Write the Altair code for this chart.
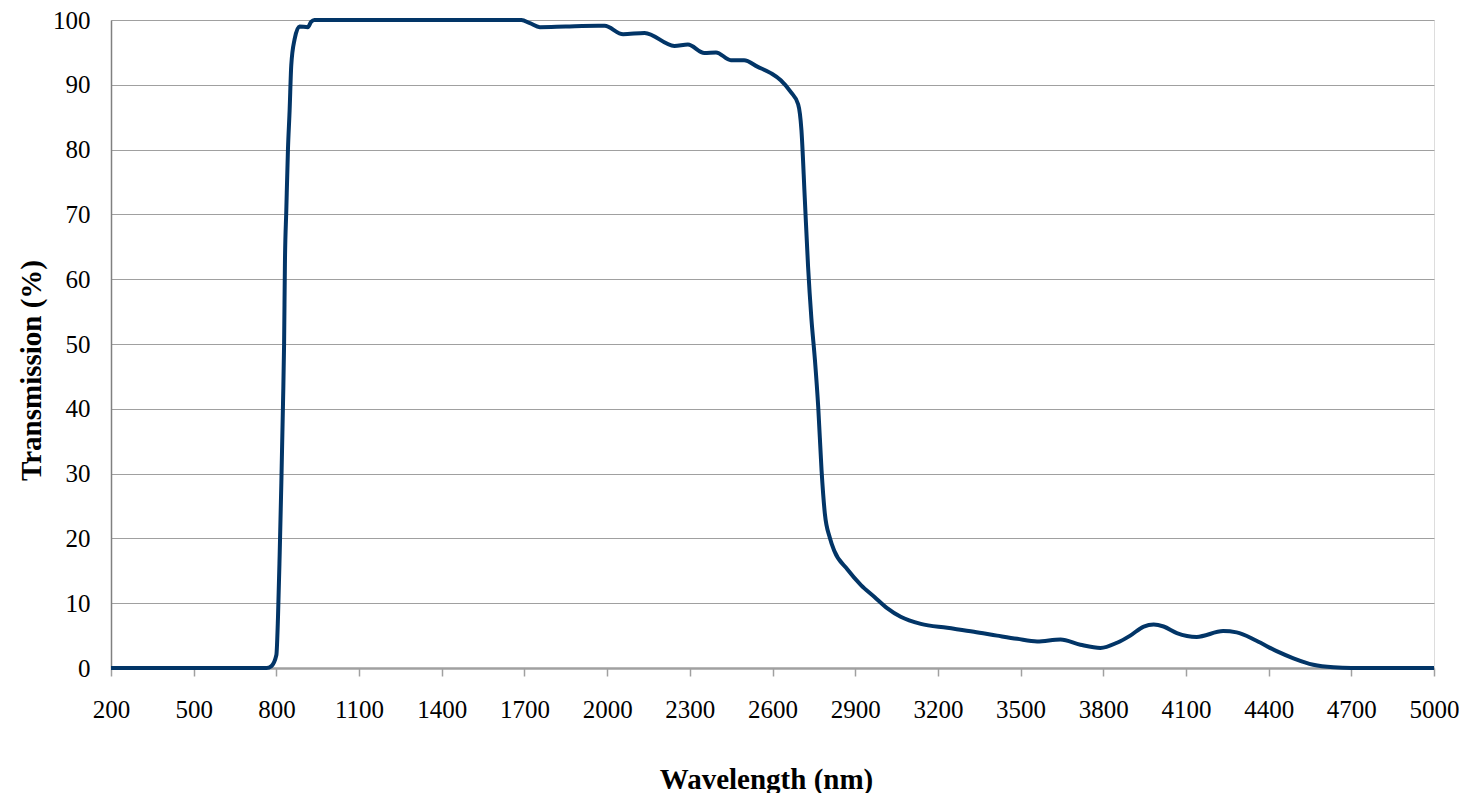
import altair as alt
import pandas as pd

wavelength = [200, 500, 764, 782, 800, 806, 812, 818, 824, 828, 831, 836, 842, 848, 854, 866, 884, 914, 926, 938,
              1200, 1500, 1689, 1720, 1756, 1850, 1967, 1991, 2058, 2136, 2244, 2293, 2353, 2395, 2449, 2497,
              2545, 2594, 2630, 2666, 2693, 2705, 2717, 2729, 2741, 2754, 2766, 2778, 2790, 2808, 2824, 2872,
              2921, 2969, 3017, 3065, 3138, 3234, 3331, 3415, 3488, 3560, 3645, 3717, 3790, 3850, 3898, 3947,
              3983, 4019, 4067, 4139, 4235, 4284, 4356, 4429, 4490, 4562, 4635, 4700, 5000]
transmission = [0, 0, 0, 0.3, 2, 8, 17.6, 28.5, 40.7, 50, 62.4, 70.6, 80, 86, 93, 97, 99, 98.9, 99.7, 100,
                100, 100, 100, 99.5, 98.9, 99.0, 99.1, 99.1, 97.8, 98.0, 96.0, 96.2, 94.9, 95.0, 93.8, 93.8,
                92.8, 91.8, 90.7, 88.9, 87.0, 83, 72.6, 62, 54, 47.5, 40.2, 30.5, 23.8, 20.1, 18.1, 15.2,
                12.8, 11.0, 9.2, 7.9, 6.8, 6.2, 5.6, 5.0, 4.5, 4.1, 4.4, 3.6, 3.1, 3.9, 5.0, 6.4,
                6.7, 6.4, 5.4, 4.8, 5.7, 5.5, 4.2, 2.6, 1.5, 0.5, 0.1, 0, 0]
x_ticks = list(range(200, 5001, 300))
y_ticks = list(range(0, 101, 10))

df = pd.DataFrame({"wl": wavelength, "t": transmission})

FONT = "Liberation Serif"

chart = alt.Chart(df).mark_line(
    color="#023567", strokeWidth=4, interpolate="monotone"
).encode(
    x=alt.X("wl:Q", scale=alt.Scale(domain=[200, 5000], nice=False, zero=False),
            axis=alt.Axis(values=x_ticks, format="d", title="Wavelength (nm)", grid=False,
                          domainColor="#a0a0a0", domainWidth=2.5,
                          tickColor="#a0a0a0", tickWidth=1.5, tickSize=8,
                          labelFont=FONT, labelFontSize=25, labelColor="#000000",
                          labelPadding=21, labelFlush=False, labelOverlap=False,
                          titleFont=FONT, titleFontSize=29, titleFontWeight="bold",
                          titleColor="#000000", titleX=655, titleY=120,
                          titleBaseline="alphabetic", titleAlign="center")),
    y=alt.Y("t:Q", scale=alt.Scale(domain=[0, 100], nice=False),
            axis=alt.Axis(values=y_ticks, format="d", title="Transmission (%)", grid=True,
                          gridColor="#a0a0a0", gridWidth=1.2,
                          domainColor="#808080", domainWidth=1.5, ticks=False,
                          labelFont=FONT, labelFontSize=25, labelColor="#000000",
                          labelPadding=21, labelOverlap=False,
                          titleFont=FONT, titleFontSize=29, titleFontWeight="bold",
                          titleColor="#000000", titleX=-80, titleY=350, titleAngle=270,
                          titleAlign="center", titleBaseline="middle"))
).properties(
    width=1323, height=648,
    autosize=alt.AutoSizeParams(type="none"),
    padding={"left": 103, "top": 12, "right": 25, "bottom": 125}
).configure_view(
    stroke="#a0a0a0", strokeWidth=2.5
).configure(background="#ffffff")

chart.save("out.html", embed_options={"renderer": "svg", "actions": False})
